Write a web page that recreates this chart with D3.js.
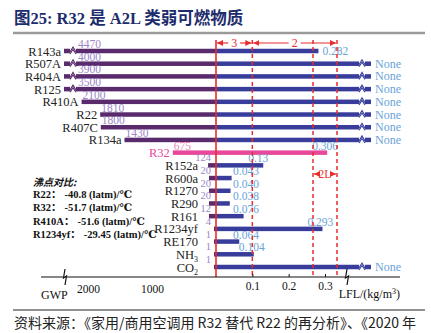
<!DOCTYPE html>
<html><head><meta charset="utf-8">
<script src="https://cdn.jsdelivr.net/npm/d3@7"></script>
<style>body{margin:0;background:#fff}svg{display:block}</style>
</head><body><svg id="c" width="431" height="333"></svg>
<script>
const categories = ["R143a","R507A","R404A","R125","R410A","R22","R407C","R134a","R32","R152a","R600a","R1270","R290","R161","R1234yf","RE170","NH3","CO2"];
const gwpValues = [4470,4000,3900,3500,2100,1810,1800,1430,675,124,20,20,20,12,4,1,1,1];
const lflValues = [0.282,null,null,null,null,null,null,null,0.306,0.13,0.043,0.040,0.038,0.076,0.293,0.064,0.104,null];
const lflLabels = ["0.282","None","None","None","None","None","None","None","0.306","0.13","0.043","0.040","0.038","0.076","0.293","0.064","0.104","None"];
const gwpTicks = [2000, 1000];
const lflTicks = [0.1, 0.2, 0.3];
const classBounds = [0.1, 0.267, 0.333];
const classNames = ["3", "2"];
const subClassName = "2L";
const noteTitle = "沸点对比:";
const noteNames = ["R22：", "R32：", "R410A：", "R1234yf："];
const noteValues = ["-40.8 (latm)/℃", "-51.7 (latm)/℃", "-51.6 (latm)/℃", "-29.45 (latm)/℃"];
const highlight = "R32";

const SERIF = "'Liberation Serif','DejaVu Serif','Noto Sans CJK SC',serif";
const CJK = "'Noto Sans CJK SC','Noto Sans CJK JP',sans-serif";
const PURPLE = "#592a6c", BLUE = "#383d9b", PINK = "#e8489a", RED = "#ea2c2c";
const LPURPLE = "#9c86c8", LBLUE = "#6aa3d8", LPINK = "#ea7fb5";

const svg = d3.select("#c");
const zero = 216, axisY = 277, leftEnd = 64, rightEnd = 371, gwpCap = 2200, barH = 4.5;
const y = d3.scalePoint().domain(categories).range([51, 267]);
const lfl = d3.scaleLinear().domain([0, 0.3]).range([zero, 325]);
const gwp = d3.scaleLinear().domain([0, 2000]).range([zero, 88]);

// title
svg.append("text").attr("x", 14).attr("y", 24)
  .attr("font-family", SERIF).attr("font-weight", "bold").attr("font-size", 16.5)
  .attr("fill", "#1d2c6c").text("图25:  R32 是 A2L 类弱可燃物质");
svg.append("line").attr("x1", 13).attr("x2", 425).attr("y1", 33).attr("y2", 33)
  .attr("stroke", "#9a9a9a").attr("stroke-width", 2.5);

function breakMark(g, cx, yc, color) {
  g.append("rect").attr("x", cx - 3).attr("y", yc - barH / 2 - 0.5).attr("width", 6).attr("height", barH + 1).attr("fill", "#fff");
  g.append("path").attr("d", `M${cx-3},${yc+1}L${cx},${yc-4}L${cx+3},${yc+1}`).attr("fill", "none").attr("stroke", color).attr("stroke-width", 1.1);
  g.append("path").attr("d", `M${cx-3},${yc+3}L${cx},${yc-1.5}L${cx+3},${yc+3}`).attr("fill", "none").attr("stroke", color).attr("stroke-width", 1.1);
}

const rows = svg.append("g");
categories.forEach((c, i) => {
  const yc = y(c);
  const g = gwpValues[i], v = lflValues[i];
  const hi = c === highlight;
  const broken = g > gwpCap;
  const minW = g >= 10 ? 7 : 2;
  const xs = broken ? leftEnd : Math.min(gwp(g), zero - minW);
  const row = rows.append("g");
  row.append("rect").attr("x", xs).attr("y", yc - barH / 2).attr("width", zero - xs).attr("height", barH)
    .attr("fill", hi ? PINK : PURPLE);
  if (broken) breakMark(row, 73, yc, PURPLE);
  const xe = v == null ? rightEnd : lfl(v);
  row.append("rect").attr("x", zero).attr("y", yc - barH / 2).attr("width", xe - zero).attr("height", barH)
    .attr("fill", hi ? PINK : BLUE);
  if (v == null) breakMark(row, 362, yc, BLUE);

  // category label
  const lab = row.append("text").attr("x", Math.min(xs - 3, zero - 18)).attr("y", yc + 4.5)
    .attr("text-anchor", "end").attr("font-family", SERIF).attr("font-size", 12.5)
    .attr("fill", hi ? PINK : "#222");
  const m = c.match(/^([A-Za-z]+)(\d)$/);
  if (c === "NH3" || c === "CO2") {
    lab.append("tspan").text(m[1]);
    lab.append("tspan").attr("font-size", 8).attr("dy", 3).text(m[2]);
  } else lab.text(c);

  // GWP value label
  const gl = row.append("text").attr("font-family", SERIF).attr("font-size", 11.5)
    .attr("fill", hi ? LPINK : LPURPLE).text(g);
  if (g >= 200) gl.attr("x", broken ? 78 : xs + 1).attr("y", yc - 3).attr("text-anchor", "start");
  else gl.attr("x", zero - 5).attr("y", yc - 4).attr("font-size", 10.5).attr("text-anchor", "end");

  // LFL value label
  const ll = row.append("text").attr("font-family", SERIF).attr("font-size", 11.5).attr("fill", LBLUE).text(lflLabels[i]);
  if (v == null) ll.attr("x", rightEnd + 4).attr("y", yc + 4).attr("font-size", 12);
  else if (i === 0) ll.attr("x", lfl(v) + 4).attr("y", yc + 4);
  else ll.attr("x", Math.max(zero + 17, lfl(v) - 15)).attr("y", yc - 3);
});

// reference lines
const topY = 40;
svg.append("line").attr("x1", zero).attr("x2", zero).attr("y1", topY).attr("y2", axisY)
  .attr("stroke", RED).attr("stroke-width", 1.6);
classBounds.forEach(b => {
  svg.append("line").attr("x1", lfl(b)).attr("x2", lfl(b)).attr("y1", topY).attr("y2", axisY)
    .attr("stroke", RED).attr("stroke-width", 1.5).attr("stroke-dasharray", "4,3");
});

// arrow markers
const defs = svg.append("defs");
defs.append("marker").attr("id", "ar").attr("viewBox", "0 0 6 6").attr("refX", 6).attr("refY", 3)
  .attr("markerWidth", 5).attr("markerHeight", 5).attr("orient", "auto-start-reverse")
  .append("path").attr("d", "M0,0L6,3L0,6Z").attr("fill", RED);

const bounds = [0].concat(classBounds.slice(0, 1)).concat(classBounds.slice(2));
const annY = 43;
classNames.forEach((n, k) => {
  const x0 = lfl(bounds[k]), x1 = lfl(bounds[k + 1]);
  const mid = (x0 + x1) / 2;
  svg.append("line").attr("x1", mid - 6).attr("x2", x0 + 1).attr("y1", annY).attr("y2", annY)
    .attr("stroke", RED).attr("stroke-width", 1.2).attr("marker-end", "url(#ar)");
  svg.append("line").attr("x1", mid + 6).attr("x2", x1 - 1).attr("y1", annY).attr("y2", annY)
    .attr("stroke", RED).attr("stroke-width", 1.2).attr("marker-end", "url(#ar)");
  svg.append("text").attr("x", mid).attr("y", annY + 4).attr("text-anchor", "middle")
    .attr("font-family", SERIF).attr("font-size", 12).attr("fill", RED).text(n);
});
{
  const x0 = lfl(classBounds[1]), x1 = lfl(classBounds[2]), mid = (x0 + x1) / 2, yy = 174;
  svg.append("line").attr("x1", mid - 7).attr("x2", x0 + 1).attr("y1", yy).attr("y2", yy)
    .attr("stroke", RED).attr("stroke-width", 1.2).attr("marker-end", "url(#ar)");
  svg.append("line").attr("x1", mid + 7).attr("x2", x1 - 1).attr("y1", yy).attr("y2", yy)
    .attr("stroke", RED).attr("stroke-width", 1.2).attr("marker-end", "url(#ar)");
  svg.append("text").attr("x", mid).attr("y", yy + 4).attr("text-anchor", "middle")
    .attr("font-family", SERIF).attr("font-size", 11.5).attr("fill", RED).text(subClassName);
}

// axis
svg.append("line").attr("x1", 41).attr("x2", 400).attr("y1", axisY).attr("y2", axisY)
  .attr("stroke", "#111").attr("stroke-width", 1.2);
[65, 347].forEach(bx => {
  svg.append("rect").attr("x", bx - 2).attr("y", axisY - 1).attr("width", 4).attr("height", 2).attr("fill", "#fff");
  svg.append("path").attr("d", `M${bx},${axisY-8}L${bx-1.5},${axisY+1}L${bx+1.5},${axisY-1}L${bx},${axisY+8}`)
    .attr("fill", "none").attr("stroke", "#111").attr("stroke-width", 1.2);
});
const ax1 = svg.append("g").attr("transform", `translate(0,${axisY})`)
  .call(d3.axisBottom(lfl).tickValues(lflTicks).tickSizeInner(-3).tickSizeOuter(0).tickPadding(5).tickFormat(d3.format(".1f")));
const ax2 = svg.append("g").attr("transform", `translate(0,${axisY})`)
  .call(d3.axisBottom(gwp).tickValues(gwpTicks).tickSize(0).tickPadding(8).tickFormat(d3.format("d")));
[ax1, ax2].forEach(a => {
  a.select(".domain").remove();
  a.selectAll("line").attr("stroke", "#111");
  a.selectAll("text").attr("font-family", SERIF).attr("font-size", 11.5).attr("fill", "#111");
});
svg.append("text").attr("x", 41).attr("y", 299).attr("font-family", SERIF).attr("font-size", 12).attr("fill", "#111").text("GWP");
const lt = svg.append("text").attr("x", 400).attr("y", 298).attr("text-anchor", "end")
  .attr("font-family", SERIF).attr("font-size", 12).attr("fill", "#111");
lt.append("tspan").text("LFL/(kg/m");
lt.append("tspan").attr("font-size", 8).attr("dy", -4).text("3");
lt.append("tspan").attr("dy", 4).text(")");

// boiling point notes
svg.append("text").attr("x", 33).attr("y", 186).attr("font-family", CJK).attr("font-size", 10)
  .attr("font-weight", "bold").attr("font-style", "italic").attr("fill", "#111").text(noteTitle);
const noteYs = d3.scaleLinear().domain([0, noteNames.length - 1]).range([198, 238]);
noteNames.forEach((n, k) => {
  const t = svg.append("text").attr("x", 33).attr("y", noteYs(k)).attr("font-family", SERIF)
    .attr("font-size", 10.5).attr("font-weight", "bold").attr("fill", "#111");
  t.append("tspan").text(n);
  t.append("tspan").attr("dx", 3).text(noteValues[k]);
});

// footer
svg.append("line").attr("x1", 13).attr("x2", 425).attr("y1", 310).attr("y2", 310)
  .attr("stroke", "#222").attr("stroke-width", 1);
svg.append("text").attr("x", 14).attr("y", 328).attr("font-family", CJK).attr("font-size", 14)
  .attr("fill", "#222").text("资料来源：《家用/商用空调用 R32 替代 R22 的再分析》、《2020 年");
</script></body></html>
